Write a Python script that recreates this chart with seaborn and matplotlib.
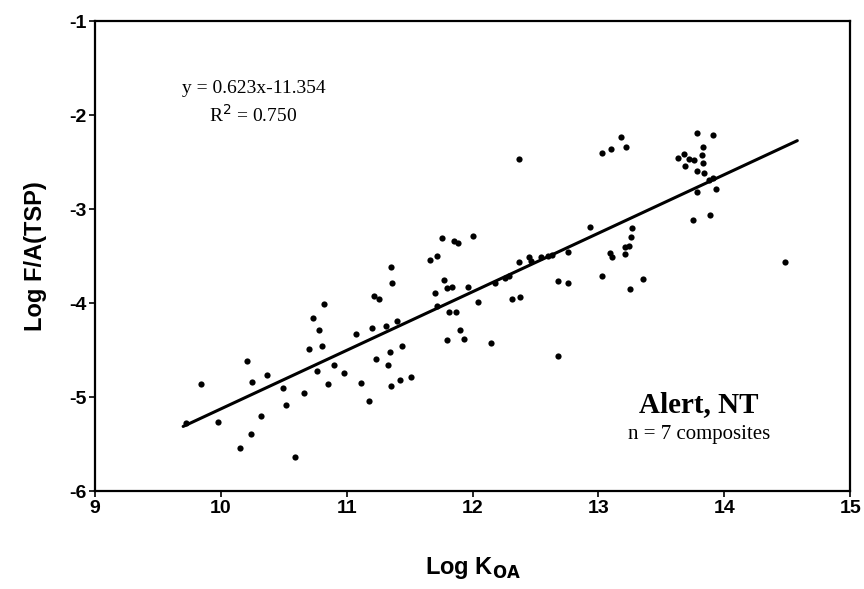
import numpy as np
import pandas as pd
import matplotlib
matplotlib.use("Agg")
import matplotlib.pyplot as plt
import seaborn as sns

# values
log_koa = [
    9.72, 9.84, 9.98, 10.15, 10.24, 10.32, 10.21, 10.25, 10.37, 10.49,
    10.52, 10.59, 10.66, 10.70, 10.73, 10.78, 10.82, 10.80, 10.76, 10.85,
    10.90, 10.98, 11.07, 11.11, 11.18, 11.20, 11.23, 11.22, 11.26, 11.31,
    11.33, 11.34, 11.35, 11.35, 11.36, 11.40, 11.42, 11.44, 11.51, 11.66,
    11.72, 11.76, 11.77, 11.70, 11.72, 11.80, 11.84, 11.85, 11.88, 11.81,
    11.87, 11.80, 11.90, 11.93, 12.00, 11.96, 12.04, 12.15, 12.18, 12.26,
    12.29, 12.31, 12.38, 12.37, 12.45, 12.46, 12.54, 12.60, 12.37, 12.63,
    12.68, 12.76, 12.76, 12.68, 12.93, 13.03, 13.09, 13.11, 13.21, 13.24,
    13.21, 13.26, 13.27, 13.25, 13.35, 13.03, 13.10, 13.18, 13.22, 13.78,
    13.91, 13.83, 13.68, 13.82, 13.63, 13.72, 13.76, 13.83, 13.69, 13.78,
    13.84, 13.88, 13.91, 13.78, 13.93, 13.89, 13.75, 14.48,
]
log_fa = [
    -5.27, -4.86, -5.26, -5.54, -5.39, -5.20, -4.62, -4.84, -4.76, -4.90,
    -5.08, -5.64, -4.95, -4.49, -4.16, -4.29, -4.01, -4.45, -4.72, -4.86,
    -4.66, -4.74, -4.33, -4.85, -5.04, -4.26, -4.59, -3.92, -3.95, -4.24,
    -4.66, -4.52, -4.88, -3.61, -3.78, -4.19, -4.82, -4.46, -4.78, -3.54,
    -3.50, -3.31, -3.75, -3.89, -4.03, -3.84, -3.83, -3.34, -3.36, -4.09,
    -4.09, -4.39, -4.29, -4.38, -3.28, -3.83, -3.99, -4.42, -3.78, -3.73,
    -3.71, -3.96, -3.93, -3.56, -3.51, -3.55, -3.51, -3.50, -2.47, -3.49,
    -3.76, -3.79, -3.45, -4.56, -3.19, -3.71, -3.47, -3.51, -3.40, -3.39,
    -3.48, -3.30, -3.20, -3.85, -3.74, -2.40, -2.36, -2.23, -2.34, -2.19,
    -2.21, -2.34, -2.41, -2.42, -2.46, -2.47, -2.48, -2.51, -2.54, -2.59,
    -2.62, -2.69, -2.67, -2.82, -2.79, -3.06, -3.11, -3.56,
]

# regression reported on the chart
slope = 0.623
intercept = -11.354
r_squared = 0.750
fit_range = [9.7, 14.58]

x_ticks = [9, 10, 11, 12, 13, 14, 15]
y_ticks = [-6, -5, -4, -3, -2, -1]

pts = pd.DataFrame({"koa": log_koa, "fa": log_fa})
fit = pd.DataFrame({"koa": fit_range})
fit["fa"] = slope * fit["koa"] + intercept

sns.set_theme(style="ticks")
plt.rcParams["font.family"] = ["Liberation Sans", "DejaVu Sans"]
plt.rcParams["axes.unicode_minus"] = False
plt.rcParams["text.color"] = "black"
plt.rcParams["axes.labelcolor"] = "black"
plt.rcParams["xtick.color"] = "black"
plt.rcParams["ytick.color"] = "black"

fig = plt.figure(figsize=(8.64, 5.89), dpi=100)
ax = fig.add_axes([0.110, 0.166, 0.874, 0.798])

sns.lineplot(data=fit, x="koa", y="fa", color="black", linewidth=2.2, ax=ax)
sns.scatterplot(data=pts, x="koa", y="fa", color="black", s=20,
                edgecolor="black", linewidth=0, ax=ax)

ax.set_xlim(9, 15)
ax.set_ylim(-6, -1)
ax.set_xticks(x_ticks)
ax.set_yticks(y_ticks)
ax.tick_params(axis="both", labelsize=14, length=4, width=1.2, pad=2)
for lab in ax.get_xticklabels() + ax.get_yticklabels():
    lab.set_fontweight("bold")

for side in ["top", "right", "bottom", "left"]:
    ax.spines[side].set_visible(True)
    ax.spines[side].set_color("black")
    ax.spines[side].set_linewidth(1.6)

ax.set_xlabel("Log K$_{\\mathbf{OA}}$", fontsize=17, fontweight="bold",
              labelpad=28)
ax.set_ylabel("Log F/A(TSP)", fontsize=17, fontweight="bold", labelpad=16)

serif = ["Liberation Serif", "DejaVu Serif"]
ax.text(10.26, -1.72, f"y = {slope}x{intercept}", ha="center", va="center",
        fontsize=14, family=serif)
ax.text(10.26, -2.0, f"R$^2$ = {r_squared:.3f}", ha="center", va="center",
        fontsize=14, family=serif)
ax.text(13.8, -5.08, "Alert, NT", ha="center", va="center", fontsize=21,
        fontweight="bold", family=serif)
ax.text(13.8, -5.4, "n = 7 composites", ha="center", va="center",
        fontsize=15, family=serif)

fig.savefig("out.png", dpi=100)
